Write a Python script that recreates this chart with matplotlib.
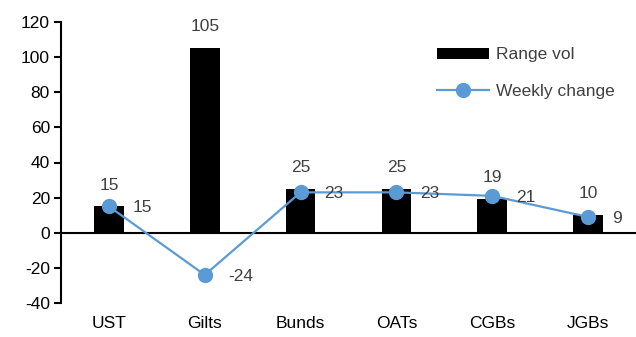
import matplotlib
matplotlib.use("Agg")
import matplotlib.pyplot as plt
import numpy as np

categories = ["UST", "Gilts", "Bunds", "OATs", "CGBs", "JGBs"]
range_vol = [15, 105, 25, 25, 19, 10]
weekly_change = [15, -24, 23, 23, 21, 9]
yticks = [-40, -20, 0, 20, 40, 60, 80, 100, 120]

plt.rcParams['font.family'] = ['Liberation Sans', 'DejaVu Sans']
plt.rcParams['axes.unicode_minus'] = False
txt = '#404040'
fs = 12.5

fig = plt.figure(figsize=(6.36, 3.37), dpi=100)
ax = fig.add_axes([61/636, 34/337, 1 - 61/636, 281/337])
x = np.arange(len(categories))
bars = ax.bar(x, range_vol, width=0.31, color='black', label='Range vol', zorder=2)
line, = ax.plot(x, weekly_change, color='#5B9BD5', lw=1.6, marker='o', markersize=10,
                label='Weekly change', zorder=3)
ax.axhline(0, color='black', lw=1.5, zorder=1)

for xi, v in zip(x, range_vol):
    ax.annotate(str(v), (xi, v), xytext=(0, 10), textcoords='offset points',
                ha='center', va='bottom', fontsize=fs, color=txt)
for xi, v in zip(x, weekly_change):
    ax.annotate(str(v), (xi, v), xytext=(17, -1), textcoords='offset points',
                ha='left', va='center', fontsize=fs, color=txt)

ax.set_xlim(-0.5, 5.5)
ax.set_ylim(-40, 120)
ax.set_yticks(yticks)
ax.set_xticks(x)
ax.set_xticklabels(categories)
for s in ['top', 'right', 'bottom']:
    ax.spines[s].set_visible(False)
ax.spines['left'].set_linewidth(1.5)
ax.tick_params(axis='y', length=5, width=1.5, labelsize=fs, colors='black', labelcolor='black', pad=3)
ax.tick_params(axis='x', length=0, labelsize=fs, labelcolor='black', pad=9)

leg = ax.legend([bars, line], ['Range vol', 'Weekly change'], loc='upper right',
                bbox_to_anchor=(0.99, 0.965), frameon=False,
                fontsize=fs, handlelength=3.0, handleheight=0.6, handletextpad=0.4,
                labelspacing=1.25, labelcolor=txt)
fig.savefig('out.png', dpi=100)
